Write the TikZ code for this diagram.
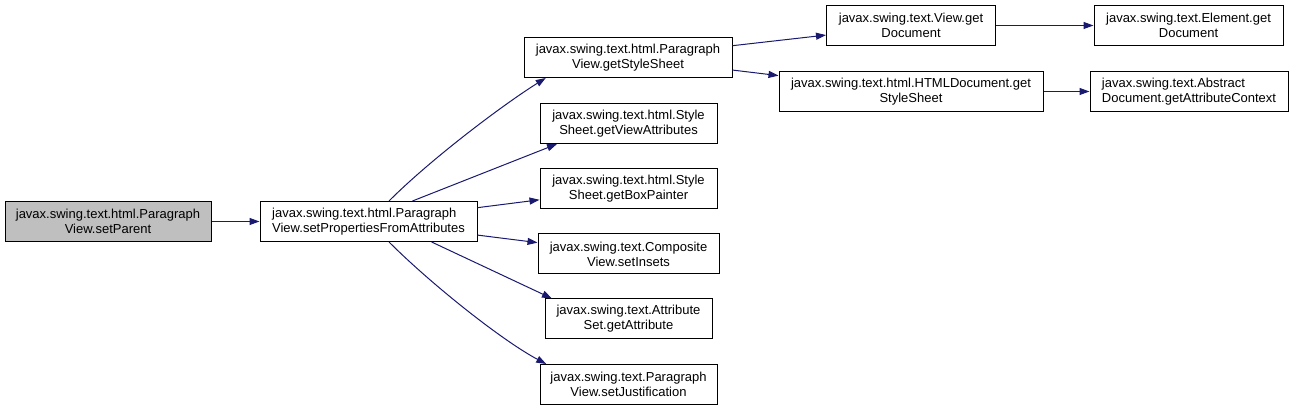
\documentclass[tikz,border=0pt]{standalone}
\usepackage{fontspec}
\setmainfont{Liberation Sans}
\usetikzlibrary{arrows.meta}
\definecolor{callblue}{HTML}{191970}
\definecolor{rootgray}{HTML}{BFBFBF}
\begin{document}
\begin{tikzpicture}[x=1pt, y=1pt,
    fn/.style={draw=black, fill=white, line width=1pt, minimum height=40pt,
        inner sep=0pt, align=center, font=\fontsize{13}{15}\selectfont},
    call/.style={draw=callblue, line width=1pt, -{Triangle[length=10pt,width=7pt]}}]
            \useasboundingbox (0,0) rectangle (1293,411);

            \node[fn, fill=rootgray, minimum width=206pt] (setparent) at (108,189.5) {javax.swing.text.html.Paragraph\\View.setParent};
            \node[fn, minimum width=217pt, align=left] (setprops) at (368.5,189.5) {javax.swing.text.html.Paragraph\\View.setPropertiesFromAttributes};

            \node[fn, minimum width=208pt] (getss) at (628,353.5) {javax.swing.text.html.Paragraph\\View.getStyleSheet};
            \node[fn, minimum width=177pt] (viewattr) at (628.5,287.5) {javax.swing.text.html.Style\\Sheet.getViewAttributes};
            \node[fn, minimum width=177pt] (boxpainter) at (628.5,222.5) {javax.swing.text.html.Style\\Sheet.getBoxPainter};
            \node[fn, minimum width=181pt] (setinsets) at (628.5,157) {javax.swing.text.Composite\\View.setInsets};
            \node[fn, minimum width=167pt] (getattr) at (628.5,92) {javax.swing.text.Attribute\\Set.getAttribute};
            \node[fn, minimum width=177pt] (setjust) at (628.5,26.5) {javax.swing.text.Paragraph\\View.setJustification};

            \node[fn, minimum width=169pt] (viewdoc) at (911,385.5) {javax.swing.text.View.get\\Document};
            \node[fn, minimum width=264pt] (htmlss) at (911,319.5) {javax.swing.text.html.HTMLDocument.get\\StyleSheet};
            \node[fn, minimum width=189pt] (elemdoc) at (1188.5,385.5) {javax.swing.text.Element.get\\Document};
            \node[fn, minimum width=198pt, align=left] (attrctx) at (1189,319.5) {javax.swing.text.Abstract\\Document.getAttributeContext};

            \draw[call] (setparent) -- (setprops);
            \draw[call] (setprops.45) .. controls +(45:60) and +(212:50) .. (getss.194);
            \draw[call] (setprops.25) -- (viewattr.196);
            \draw[call] (setprops) -- (boxpainter);
            \draw[call] (setprops) -- (setinsets);
            \draw[call] (setprops.-18) -- (getattr.165);
            \draw[call] (setprops.-45) .. controls +(-45:60) and +(152:50) .. (setjust.166);

            \draw[call] (getss) -- (viewdoc);
            \draw[call] (getss) -- (htmlss);
            \draw[call] (viewdoc) -- (elemdoc);
            \draw[call] (htmlss) -- (attrctx);
\end{tikzpicture}
\end{document}
